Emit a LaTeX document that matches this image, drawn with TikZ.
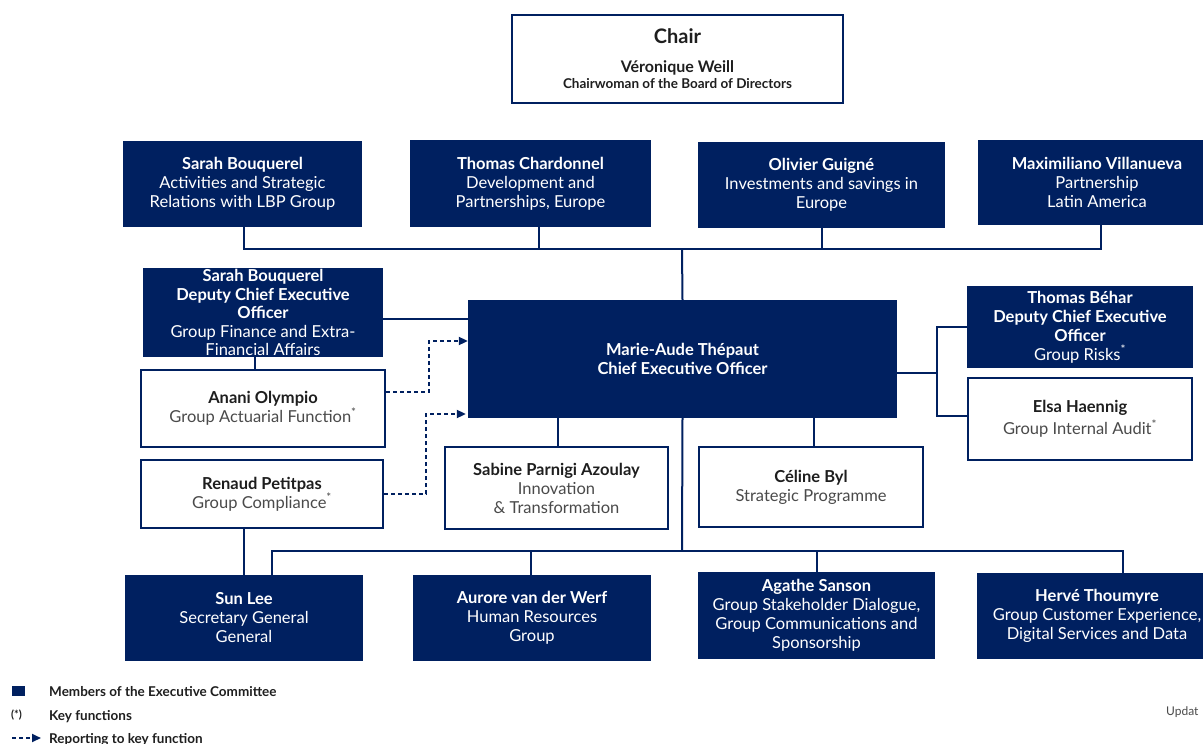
\documentclass[tikz,border=0pt]{standalone}
\usepackage{fontspec}
\setmainfont{Lato}
\usetikzlibrary{arrows.meta, positioning}
\definecolor{navy}{HTML}{002060}
\definecolor{ink}{HTML}{1E1E1E}
\definecolor{greytext}{HTML}{4A4A4A}
\newcommand{\nm}[1]{\textcolor{ink}{\textbf{#1}}}

\begin{document}
\begin{tikzpicture}[x=1pt, y=-1pt,
    box size/.style 2 args={minimum width=#1pt, minimum height=#2pt},
    exec box/.style={
        fill=navy, text=white,
        align=center, inner sep=0pt,
        font=\fontsize{16.5}{19}\selectfont
    },
    key box/.style={
        draw=navy, line width=2.2pt,  % white box, navy frame
        fill=white, text=greytext,
        align=center, inner sep=0pt,
        font=\fontsize{16.5}{19}\selectfont
    },
    link/.style={draw=navy, line width=2pt},
    report/.style={draw=navy, line width=2pt, dash pattern=on 4pt off 3pt,
        -{Triangle[length=9pt,width=8pt]}},
    legend/.style={anchor=west, text=ink, inner sep=0pt,
        font=\fontsize{13.5}{15}\selectfont\bfseries}
]
    \useasboundingbox (0,0) rectangle (1203,744);

    % board
    \node[key box, box size={331}{88}, text=ink] (chair) at (677.5,59)
        {{\fontsize{20}{22}\selectfont\bfseries Chair}\\[10pt]
         {\fontsize{16}{17}\selectfont\bfseries Véronique Weill}\\[-3pt]
         {\fontsize{13.5}{15}\selectfont\bfseries Chairwoman of the Board of Directors}};

    % top row
    \node[exec box, box size={239}{86}] (bouquerel) at (242.5,184)
        {\textbf{Sarah Bouquerel}\\Activities and Strategic\\Relations with LBP Group};
    \node[exec box, box size={241}{87}] (chardonnel) at (530.5,183.5)
        {\textbf{Thomas Chardonnel}\\Development and\\Partnerships, Europe};
    \node[exec box, box size={247}{86}] (guigne) at (821.5,185)
        {\textbf{Olivier Guigné}\\Investments and savings in\\Europe};
    \node[exec box, box size={238}{85}] (villanueva) at (1097,182.5)
        {\textbf{Maximiliano Villanueva}\\Partnership\\Latin America};

    % CEO
    \node[exec box, box size={429}{118}] (ceo) at (682.5,359)
        {\textbf{Marie-Aude Thépaut}\\\textbf{Chief Executive Officer}};

    % left side
    \node[exec box, box size={240}{89}, font=\fontsize{16.5}{18.5}\selectfont] (deputyfin) at (263,312.5)
        {\textbf{Sarah Bouquerel}\\\textbf{Deputy Chief Executive}\\\textbf{Officer}\\Group Finance and Extra-\\Financial Affairs};
    \node[key box, box size={244}{77}] (olympio) at (263,408.5)
        {\nm{Anani Olympio}\\Group Actuarial Function\textsuperscript{*}};
    \node[key box, box size={242}{68}] (petitpas) at (262,494)
        {\nm{Renaud Petitpas}\\Group Compliance\textsuperscript{*}};

    % right side
    \node[exec box, box size={226}{82}] (behar) at (1080,327)
        {\textbf{Thomas Béhar}\\\textbf{Deputy Chief Executive}\\\textbf{Officer}\\Group Risks\textsuperscript{*}};
    \node[key box, box size={224}{82}] (haennig) at (1080,419)
        {\nm{Elsa Haennig}\\[3pt]Group Internal Audit\textsuperscript{*}};

    % under the CEO
    \node[key box, box size={223}{82}] (azoulay) at (556.5,488)
        {\nm{Sabine Parnigi Azoulay}\\Innovation\\\& Transformation};
    \node[key box, box size={224}{80}] (byl) at (811,487)
        {\nm{Céline Byl}\\Strategic Programme};

    % bottom row
    \node[exec box, box size={238}{86}] (sunlee) at (244,618)
        {\textbf{Sun Lee}\\Secretary General\\General};
    \node[exec box, box size={238}{86}] (vanderwerf) at (532,618)
        {\textbf{Aurore van der Werf}\\Human Resources\\Group};
    \node[exec box, box size={237}{87}] (sanson) at (816.5,615.5)
        {\textbf{Agathe Sanson}\\Group Stakeholder Dialogue,\\Group Communications and\\Sponsorship};
    \node[exec box, box size={240}{86}] (thoumyre) at (1097,616)
        {\textbf{Hervé Thoumyre}\\Group Customer Experience,\\Digital Services and Data};

    % connectors
    \coordinate (topbus) at (682,249);
    \coordinate (rightbus) at (937,373);
    \coordinate (botbus) at (682,551);

    \draw[link] ([xshift=1.5pt]bouquerel.south) |- (topbus) -| ([xshift=4pt]villanueva.south);
    \draw[link] ([xshift=8.5pt]chardonnel.south) -- ([xshift=8.5pt]chardonnel.south |- topbus);
    \draw[link] (guigne.south) -- (guigne.south |- topbus);
    \draw[link] (topbus) -- (ceo.north);

    \draw[link] ([yshift=-6.5pt]deputyfin.east) -- ([yshift=40pt]ceo.west);
    \draw[link] ([xshift=-8pt]deputyfin.south) -- ([xshift=-8pt]olympio.north);
    \draw[link] (sunlee.north) -- (sunlee.north |- petitpas.south);

    \draw[report] ([yshift=16.5pt]olympio.east) -- ++(43,0) |- ([yshift=18pt]ceo.west);
    \draw[report] (petitpas.east) -- ++(42,0) |- ([yshift=-55pt,xshift=-2pt]ceo.west);

    \draw[link] ([yshift=-14pt]ceo.east) -- (rightbus);
    \draw[link] (behar.west) -| (rightbus) |- ([yshift=3pt]haennig.west);

    \draw[link] ([xshift=1.5pt]azoulay.north) -- ([xshift=1.5pt]azoulay.north |- ceo.south);
    \draw[link] ([xshift=3pt]byl.north) -- ([xshift=3pt]byl.north |- ceo.south);

    \draw[link] (ceo.south) -- (botbus);
    \draw[link] ([xshift=28pt]sunlee.north) |- (botbus) -| ([xshift=26pt]thoumyre.north);
    \draw[link] ([xshift=-1pt]vanderwerf.north) -- ([xshift=-1pt]vanderwerf.north |- botbus);
    \draw[link] (sanson.north) -- (sanson.north |- botbus);

    % legend
    \fill[navy] (12,686) rectangle (25,696);
    \node[legend] (lgexec) at (49,692) {Members of the Executive Committee};
    \node[legend, font=\fontsize{11}{12}\selectfont\bfseries] (lgstar) at (11,715) {(*)};
    \node[legend] (lgkey) at (49,717) {Key functions};
    \coordinate (lgfrom) at (12,738);
    \coordinate (lgto) at (41,738);
    \draw[report] (lgfrom) -- (lgto);
    \node[legend] (lgreport) at (49,740) {Reporting to key function};
    \node[anchor=west, text=greytext, inner sep=0pt,
        font=\fontsize{12}{14}\selectfont] (update) at (1166,712) {Updat};
\end{tikzpicture}
\end{document}
